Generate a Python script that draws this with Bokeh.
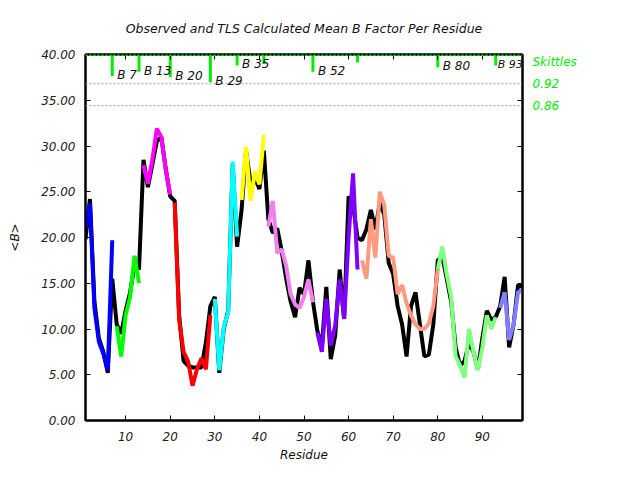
from bokeh.plotting import figure
from bokeh.models import (Range1d, LinearAxis, FixedTicker, LabelSet,
                          ColumnDataSource, Span, NumeralTickFormatter)
from bokeh.core.properties import value
from bokeh.embed import file_html
from bokeh.resources import INLINE

# ---------------- data ----------------
residues = list(range(1, 100))

observed = [19.8, 24.2, 13.0, 9.0, 7.5, 5.2, 15.5, 10.5, 9.5, 12.0,
            14.0, 17.0, 16.5, 28.5, 25.5, 28.0, 30.5, 31.0, 27.5, 24.5,
            24.0, 11.5, 6.5, 6.0, 5.8, 5.8, 5.8, 8.5, 12.5, 13.5,
            5.2, 10.0, 12.0, 28.0, 19.0, 23.0, 29.5, 26.0, 26.5, 25.3,
            29.5, 22.0, 20.5, 21.0, 18.5, 15.5, 13.0, 11.3, 14.5, 13.8,
            17.5, 13.0, 9.8, 8.0, 14.6, 6.7, 9.3, 16.5, 11.1, 24.5,
            23.5, 20.0, 19.7, 20.9, 23.0, 20.9, 23.8, 22.5, 17.2, 16.0,
            12.5, 10.5, 7.0, 12.5, 14.0, 10.5, 7.0, 7.2, 10.5, 17.5,
            18.0, 15.5, 13.0, 8.0, 6.0, 6.5, 8.5, 7.5, 5.6, 9.0,
            12.0, 11.0, 11.3, 12.5, 15.7, 8.0, 10.5, 14.8, 14.6]

tls = [21.0, 23.7, 12.3, 8.6, 7.3, 5.5, 19.7, 10.3, 7.0, 11.5,
       13.5, 18.0, 15.0, 27.9, 25.9, 28.5, 31.9, 31.0, 27.4, 24.7,
       23.8, 11.0, 7.5, 6.5, 3.8, 5.6, 6.8, 5.6, 11.5, 13.3,
       5.5, 10.2, 11.8, 28.3, 20.1, 24.1, 29.9, 24.0, 27.2, 25.8,
       31.2, 21.2, 24.0, 18.3, 18.7, 16.9, 13.8, 12.7, 12.3, 13.5,
       15.4, 12.9, 9.6, 7.5, 13.3, 8.2, 10.4, 15.4, 11.1, 20.0,
       27.0, 16.5, 17.5, 15.5, 22.0, 17.8, 25.0, 23.5, 18.0, 17.8,
       13.8, 14.8, 12.8, 11.5, 10.5, 10.0, 10.0, 10.6, 12.5, 16.5,
       19.0, 16.0, 13.5, 7.0, 6.0, 4.7, 10.0, 7.5, 5.5, 8.0,
       11.5, 10.0, 11.3, 12.3, 14.0, 8.8, 10.5, 14.0, 14.3]

group_start = [1, 8, 14, 21, 30, 36, 42, 53, 63, 80, 94]
group_end = [7, 13, 20, 29, 35, 41, 52, 62, 80, 93, 99]
group_colors = ["#0000ff", "#00ff00", "#ff00ff", "#ff0000", "#00ffff", "#ffff00",
                "#f080f0", "#8000ff", "#ff9980", "#80ff80", "#8080ff"]

skittle_res = [7, 13, 20, 29, 35, 41, 52, 62, 80, 93]
skittle_val = [0.941, 0.953, 0.938, 0.925, 0.970, 0.974, 0.953, 0.978, 0.965, 0.970]
skittle_labelled = [True, True, True, True, True, False, True, False, True, True]

ref_levels = [0.92, 0.86]
skittles_title_level = 0.979
x_ticks = [10, 20, 30, 40, 50, 60, 70, 80, 90]
y_ticks = [0, 5, 10, 15, 20, 25, 30, 35, 40]

FONT = "DejaVu Sans"
GREEN = "#00ee00"

# ---------------- figure ----------------
p = figure(width=624, height=464, output_backend="svg", toolbar_location=None,
           x_range=Range1d(1, 99), y_range=Range1d(0, 40),
           min_border_left=85, min_border_right=102, min_border_top=54,
           min_border_bottom=42)
p.extra_y_ranges = {"sk": Range1d(0, 1)}

p.title.text = "Observed and TLS Calculated Mean B Factor Per Residue"
p.title.align = "center"
p.title.text_font = FONT
p.title.text_font_style = "italic"
p.title.text_font_size = "12.5px"
p.title.text_color = "#111111"
p.title.standoff = 37

p.xgrid.visible = False
p.ygrid.visible = False
p.outline_line_color = "black"
p.outline_line_width = 2
p.background_fill_color = "white"
p.border_fill_color = "white"

for ax in (p.xaxis[0], p.yaxis[0]):
    ax.axis_line_width = 2
    ax.major_tick_in = 5
    ax.major_tick_out = 0
    ax.minor_tick_line_color = None
    ax.major_label_text_font = FONT
    ax.major_label_text_font_style = "italic"
    ax.major_label_text_font_size = "12px"
    ax.major_label_text_color = "#222222"
    ax.axis_label_text_font = FONT
    ax.axis_label_text_font_style = "italic"
    ax.axis_label_text_font_size = "12px"
    ax.axis_label_text_color = "#111111"

p.xaxis[0].ticker = FixedTicker(ticks=x_ticks)
p.xaxis[0].axis_label = "Residue"
p.xaxis[0].major_label_standoff = 11
p.xaxis[0].axis_label_standoff = 4

p.yaxis[0].ticker = FixedTicker(ticks=y_ticks)
p.yaxis[0].formatter = NumeralTickFormatter(format="0.00")
p.yaxis[0].axis_label = "<B>"
p.yaxis[0].major_label_standoff = 10
p.yaxis[0].axis_label_standoff = 16

# mirrored top axis (ticks only, no labels drawn)
top = LinearAxis(ticker=FixedTicker(ticks=x_ticks), major_tick_in=5, major_tick_out=0,
                 minor_tick_line_color=None, axis_line_width=2,
                 major_label_text_font_size="0px", major_label_text_color=None,
                 major_label_standoff=0)
p.add_layout(top, "above")

# mirrored right axis (ticks only), in the main y range
right_mirror = LinearAxis(ticker=FixedTicker(ticks=y_ticks), major_tick_in=5,
                          major_tick_out=0, minor_tick_line_color=None, axis_line_width=2,
                          major_label_text_font_size="0px", major_label_text_color=None,
                          major_label_standoff=0)
p.add_layout(right_mirror, "right")

# right axis: skittles levels
sk_ticks = ref_levels + [skittles_title_level]
overrides = {lv: "%.2f" % lv for lv in ref_levels}
overrides[skittles_title_level] = "Skittles"
right = LinearAxis(y_range_name="sk", ticker=FixedTicker(ticks=sk_ticks),
                   major_label_overrides=overrides, major_tick_in=0, major_tick_out=0,
                   minor_tick_line_color=None, axis_line_color=None,
                   major_label_standoff=10, major_label_text_font=FONT,
                   major_label_text_font_style="italic", major_label_text_font_size="12px",
                   major_label_text_color=GREEN)
p.add_layout(right, "right")

# reference levels
for lv in ref_levels:
    p.add_layout(Span(location=lv, dimension="width", y_range_name="sk",
                      line_color="#999999", line_dash="2 2", line_width=1))

# observed line
p.line(residues, observed, line_color="black", line_width=4)

# TLS groups
for s, e, c in zip(group_start, group_end, group_colors):
    p.line(residues[s - 1:e], tls[s - 1:e], line_color=c, line_width=4)

# skittles
p.add_layout(Span(location=1.0, dimension="width", y_range_name="sk",
                  line_color=GREEN, line_dash="2 2", line_width=3))
p.segment(x0=skittle_res, y0=[1.0] * len(skittle_res), x1=skittle_res, y1=skittle_val,
          y_range_name="sk", line_color=GREEN, line_width=3)

lab_x = [r for r, f in zip(skittle_res, skittle_labelled) if f]
lab_y = [v for v, f in zip(skittle_val, skittle_labelled) if f]
lab_t = ["B %d" % r for r in lab_x]
# the last label sits against the right edge of the frame: keep it inside
lab_dx = [5] * (len(lab_x) - 1) + [2]
lab_size = ["12px"] * (len(lab_x) - 1) + ["11px"]
labels = LabelSet(source=ColumnDataSource(dict(x=lab_x, y=lab_y, t=lab_t,
                                               dx=lab_dx, fs=lab_size)),
                  x="x", y="y", text="t", y_range_name="sk", x_offset="dx", y_offset=1,
                  text_baseline="middle", text_align="left", text_font=value(FONT),
                  text_font_style="italic", text_font_size="fs", text_color="#111111")
p.add_layout(labels)

open("out.html", "w").write(file_html(p, INLINE))
